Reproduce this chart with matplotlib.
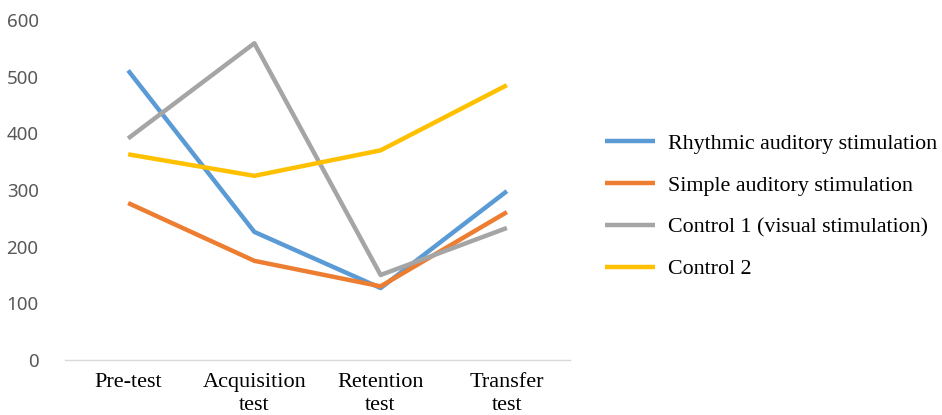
import matplotlib
matplotlib.use('Agg')
import matplotlib.pyplot as plt

# data
stages = ['Pre-test', 'Acquisition\ntest', 'Retention\ntest', 'Transfer\ntest']
rhythmic = [511, 226, 127, 298]
simple = [277, 175, 130, 261]
control1 = [391, 559, 150, 233]
control2 = [363, 325, 370, 485]

series = [
    ('Rhythmic auditory stimulation', rhythmic, '#5B9BD5'),
    ('Simple auditory stimulation', simple, '#ED7D31'),
    ('Control 1 (visual stimulation)', control1, '#A5A5A5'),
    ('Control 2', control2, '#FFC000'),
]

fig = plt.figure(figsize=(9.42, 4.15), dpi=100)
ax = fig.add_axes([65/942, 1-360/415, 505/942, 340/415])

x = range(len(stages))
for name, vals, col in series:
    ax.plot(x, vals, color=col, lw=3.2, label=name, solid_capstyle='butt')

ax.set_xlim(-0.5, len(stages) - 0.5)
ax.set_ylim(0, 600)
ax.set_yticks(range(0, 601, 100))
ax.set_xticks(list(x))
ax.set_xticklabels(stages, fontfamily='Liberation Serif', fontsize=16,
                   linespacing=1.3)
for lab in ax.get_yticklabels():
    lab.set_fontfamily('Noto Sans')
    lab.set_fontsize(13.5)
    lab.set_color('#595959')
ax.tick_params(axis='both', length=0)
ax.tick_params(axis='y', pad=19)
ax.tick_params(axis='x', pad=9)

for s in ['top', 'right', 'left']:
    ax.spines[s].set_visible(False)
ax.spines['bottom'].set_color('#D9D9D9')
ax.spines['bottom'].set_linewidth(1)

leg = fig.legend(loc='center left', bbox_to_anchor=(605/942, 1-206.5/415),
                 frameon=False, borderpad=0, borderaxespad=0,
                 handlelength=2.3, handletextpad=0.55, labelspacing=0.98,
                 prop={'family': 'Liberation Serif', 'size': 15.8})

fig.savefig('out.png', dpi=100)
